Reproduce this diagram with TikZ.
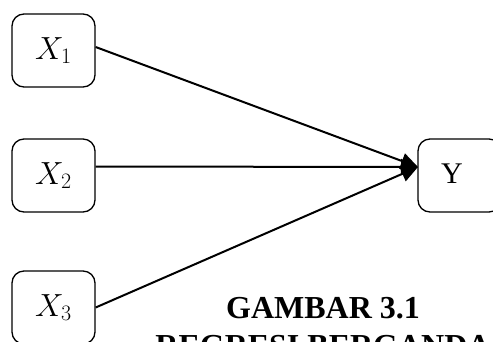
\RequirePackage{fix-cm}
\documentclass[tikz,border=0pt]{standalone}
\usepackage{fontspec}
\setmainfont{Liberation Serif}
\usetikzlibrary{arrows.meta}
\newcommand{\xvar}[1]{\fontsize{32}{38}\selectfont$X_{\mbox{\fontsize{22}{26}\selectfont$#1$}}$}
\tikzset{
  varbox/.style={draw, line width=1.3pt, rounded corners=12pt, minimum width=83pt, minimum height=73pt, inner sep=0pt},
  conn/.style={line width=2pt, -{Triangle[length=17pt,width=16pt]}},
  captext/.style={font=\fontsize{32}{38}\selectfont\bfseries, inner sep=0pt, anchor=base}
}
\begin{document}
\begin{tikzpicture}[x=1pt,y=-1pt]
\useasboundingbox (0,0) rectangle (493,341);
\clip (0,0) rectangle (493,341);
\node[varbox] (X1) at (53.5,50.5) {\xvar{1}};
\node[varbox] (X2) at (53.5,175.5) {\xvar{2}};
\node[varbox] (X3) at (53.5,307.5) {\xvar{3}};
\node[varbox, font=\fontsize{30}{36}\selectfont] (Y) at (459.5,175.5) {\raisebox{3pt}{Y}\kern15pt};
\coordinate (tip) at (418,167);
\draw[conn] ([yshift=3.5pt]X1.east) -- (tip);
\draw[conn] ([yshift=9pt]X2.east) -- (tip);
\draw[conn] (X3.east) -- (tip);
\node[captext] (cap1) at (323,318) {GAMBAR 3.1};
\node[captext] (cap2) at (323,356) {REGRESI BERGANDA};
\end{tikzpicture}
\end{document}
